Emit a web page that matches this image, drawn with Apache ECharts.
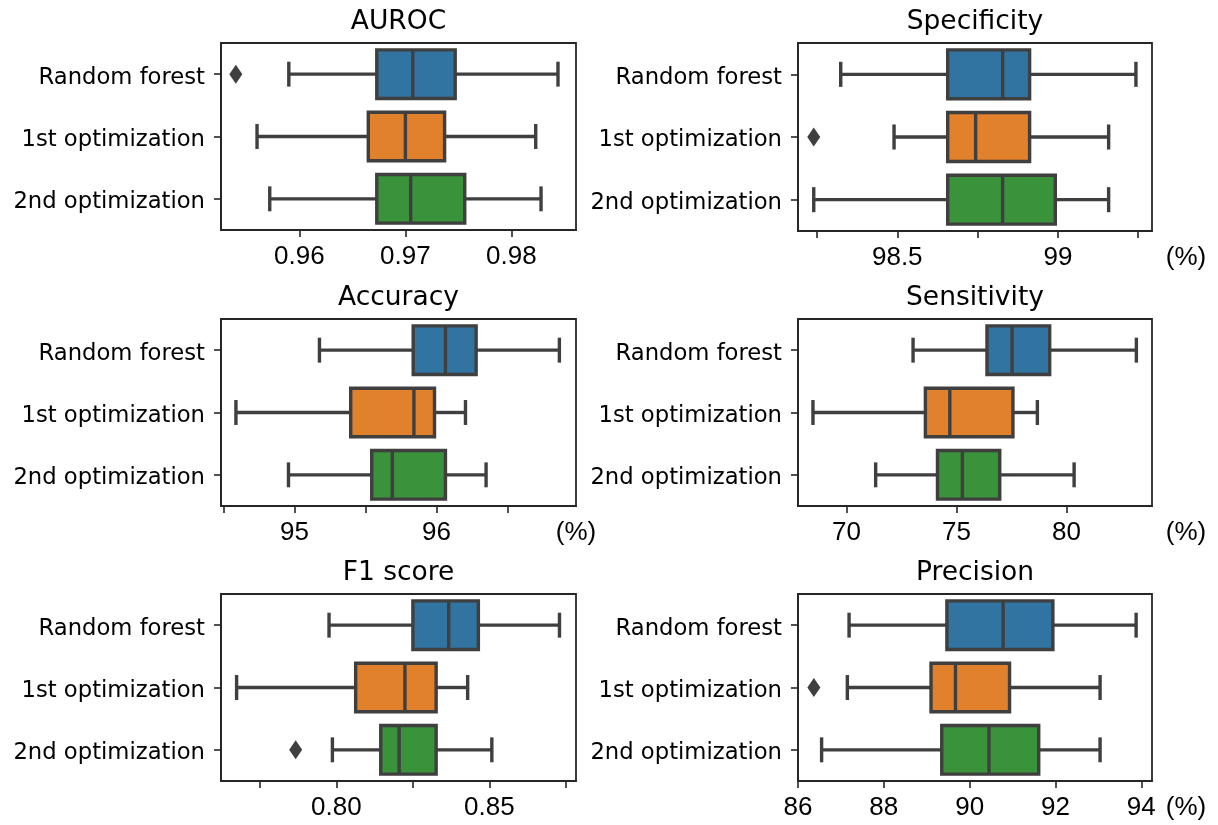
<!DOCTYPE html>
<html>
<head>
<meta charset="utf-8">
<script src="https://cdn.jsdelivr.net/npm/echarts@6/dist/echarts.min.js"></script>
<style>
html,body{margin:0;padding:0;background:#fff;}
#chart{width:1218px;height:825px;}
</style>
</head>
<body>
<div id="chart"></div>
<script>
// ---- data ----
const categories = ['Random forest', '1st optimization', '2nd optimization'];
const panelTitles = ['AUROC', 'Specificity', 'Accuracy', 'Sensitivity', 'F1 score', 'Precision'];

// [whisker low, Q1, median, Q3, whisker high] per category
const aurocBoxes = [
  [0.9590, 0.9673, 0.9707, 0.9747, 0.9844],
  [0.9560, 0.9665, 0.9700, 0.9737, 0.9823],
  [0.9572, 0.9673, 0.9705, 0.9756, 0.9828]
];
const aurocOutliers = [[0.9540, 0]];

const specificityBoxes = [
  [98.324, 98.657, 98.828, 98.912, 99.243],
  [98.490, 98.657, 98.744, 98.912, 99.158],
  [98.240, 98.657, 98.828, 98.992, 99.158]
];
const specificityOutliers = [[98.240, 1]];

const accuracyBoxes = [
  [95.176, 95.836, 96.063, 96.279, 96.865],
  [94.588, 95.396, 95.841, 95.986, 96.204],
  [94.958, 95.544, 95.689, 96.063, 96.349]
];
const accuracyOutliers = [];

const sensitivityBoxes = [
  [73.03, 76.39, 77.53, 79.24, 83.18],
  [68.48, 73.59, 74.70, 77.57, 78.68],
  [71.33, 74.14, 75.27, 76.97, 80.35]
];
const sensitivityOutliers = [];

const f1Boxes = [
  [0.7976, 0.8250, 0.8367, 0.8464, 0.8729],
  [0.7674, 0.8063, 0.8224, 0.8326, 0.8429],
  [0.7987, 0.8145, 0.8205, 0.8326, 0.8508]
];
const f1Outliers = [[0.7867, 2]];

const precisionBoxes = [
  [87.19, 89.47, 90.78, 91.94, 93.88],
  [87.15, 89.10, 89.67, 90.93, 93.04],
  [86.55, 89.35, 90.45, 91.61, 93.04]
];
const precisionOutliers = [[86.37, 1]];

// tick marks and tick labels
const aurocTicks = [0.96, 0.97, 0.98];
const aurocLabels = [0.96, 0.97, 0.98];
const specificityTicks = [98.25, 98.5, 98.75, 99, 99.25];
const specificityLabels = [98.5, 99];
const accuracyTicks = [94.5, 95, 95.5, 96, 96.5];
const accuracyLabels = [95, 96];
const sensitivityTicks = [70, 75, 80];
const sensitivityLabels = [70, 75, 80];
const f1Ticks = [0.775, 0.80, 0.825, 0.85, 0.875];
const f1Labels = [0.80, 0.85];
const precisionTicks = [86, 88, 90, 92, 94];
const precisionLabels = [86, 88, 90, 92, 94];

// axis ranges
const aurocRange = [0.9526, 0.9861];
const specificityRange = [98.191, 99.293];
const accuracyRange = [94.483, 96.982];
const sensitivityRange = [67.8, 83.89];
const f1Range = [0.7623, 0.8783];
const precisionRange = [86.0, 94.25];

// ---- styling / layout ----
const boxColors = ['#3274A1', '#E1812C', '#3A923A'];
const lineGray = '#3f3f3f';
const frameColor = '#262626';
const grids = [
  {left: 221, top: 43, width: 355, height: 187},
  {left: 798, top: 43, width: 354, height: 188},
  {left: 221, top: 319, width: 355, height: 187},
  {left: 798, top: 319, width: 354, height: 187},
  {left: 221, top: 594, width: 355, height: 187},
  {left: 798, top: 594, width: 354, height: 187}
];
// horizontal offset of the "(%)" unit label from the grid's right edge
const pctOffsets = [0, 34, 0, 34, 0, 34];
const panels = [
  {boxes: aurocBoxes, outliers: aurocOutliers, ticks: aurocTicks, labels: aurocLabels, range: aurocRange, pct: false, fmt: v => String(v)},
  {boxes: specificityBoxes, outliers: specificityOutliers, ticks: specificityTicks, labels: specificityLabels, range: specificityRange, pct: true, fmt: v => String(v)},
  {boxes: accuracyBoxes, outliers: accuracyOutliers, ticks: accuracyTicks, labels: accuracyLabels, range: accuracyRange, pct: true, fmt: v => String(v)},
  {boxes: sensitivityBoxes, outliers: sensitivityOutliers, ticks: sensitivityTicks, labels: sensitivityLabels, range: sensitivityRange, pct: true, fmt: v => String(v)},
  {boxes: f1Boxes, outliers: f1Outliers, ticks: f1Ticks, labels: f1Labels, range: f1Range, pct: false, fmt: v => v.toFixed(2)},
  {boxes: precisionBoxes, outliers: precisionOutliers, ticks: precisionTicks, labels: precisionLabels, range: precisionRange, pct: true, fmt: v => String(v)}
];

function renderBox(params, api) {
  const cat = api.value(0);
  const pLo = api.coord([api.value(1), cat]);
  const pQ1 = api.coord([api.value(2), cat]);
  const pMd = api.coord([api.value(3), cat]);
  const pQ3 = api.coord([api.value(4), cat]);
  const pHi = api.coord([api.value(5), cat]);
  const band = api.size([0, 1])[1];
  const y = pQ1[1];
  const bh = band * 0.78;
  const ch = band * 0.4;
  const lw = 3.4;
  const ls = {stroke: lineGray, lineWidth: lw, fill: null};
  return {
    type: 'group',
    children: [
      {type: 'line', shape: {x1: pLo[0], y1: y, x2: pQ1[0], y2: y}, style: ls},
      {type: 'line', shape: {x1: pQ3[0], y1: y, x2: pHi[0], y2: y}, style: ls},
      {type: 'line', shape: {x1: pLo[0], y1: y - ch / 2, x2: pLo[0], y2: y + ch / 2}, style: ls},
      {type: 'line', shape: {x1: pHi[0], y1: y - ch / 2, x2: pHi[0], y2: y + ch / 2}, style: ls},
      {type: 'rect', shape: {x: pQ1[0], y: y - bh / 2, width: pQ3[0] - pQ1[0], height: bh},
        style: {fill: boxColors[cat], stroke: lineGray, lineWidth: lw}},
      {type: 'line', shape: {x1: pMd[0], y1: y - bh / 2, x2: pMd[0], y2: y + bh / 2}, style: ls}
    ]
  };
}

const option = {
  backgroundColor: '#fff',
  animation: false,
  grid: [],
  xAxis: [],
  yAxis: [],
  series: [],
  graphic: []
};

panels.forEach((p, i) => {
  const g = grids[i];
  option.grid.push(Object.assign({show: true, borderColor: frameColor, borderWidth: 1.8, backgroundColor: 'transparent'}, g));
  option.xAxis.push({
    type: 'value', gridIndex: i, min: p.range[0], max: p.range[1],
    splitLine: {show: false},
    axisLine: {show: true, lineStyle: {color: frameColor, width: 1.8}},
    axisTick: {show: true, length: 7, lineStyle: {color: frameColor, width: 1.6}, customValues: p.ticks},
    axisLabel: {show: true, customValues: p.labels, formatter: p.fmt, margin: 14,
      color: '#000', fontFamily: 'Liberation Sans, Arial', fontSize: 26}
  });
  option.yAxis.push({
    type: 'category', gridIndex: i, data: categories, inverse: true,
    axisLine: {show: true, lineStyle: {color: frameColor, width: 1.8}},
    axisTick: {show: true, length: 7, alignWithLabel: true, lineStyle: {color: frameColor, width: 1.6}},
    axisLabel: {show: true, margin: 16, formatter: '{c|{value}}',
      rich: {c: {color: '#000', fontFamily: 'DejaVu Sans', fontSize: 22.7, padding: [7, 0, 0, 0]}}},
    splitLine: {show: false}
  });
  option.series.push({
    type: 'custom', xAxisIndex: i, yAxisIndex: i,
    renderItem: renderBox,
    encode: {y: 0, x: [1, 2, 3, 4, 5]},
    data: p.boxes.map((b, c) => [c].concat(b))
  });
  option.series.push({
    type: 'scatter', xAxisIndex: i, yAxisIndex: i,
    symbol: 'diamond', symbolSize: [13, 19],
    itemStyle: {color: lineGray, opacity: 1},
    data: p.outliers
  });
  option.graphic.push({
    type: 'text', x: g.left + g.width / 2, y: g.top - 21,
    style: {text: panelTitles[i], fill: '#000', font: '26.5px "DejaVu Sans"', textAlign: 'center', textVerticalAlign: 'middle'}
  });
  if (p.pct) {
    option.graphic.push({
      type: 'text', x: g.left + g.width + pctOffsets[i], y: g.top + g.height + 27,
      style: {text: '(%)', fill: '#000', font: '26px "Liberation Sans"', textAlign: 'center', textVerticalAlign: 'middle'}
    });
  }
});

const chart = echarts.init(document.getElementById('chart'), null, {renderer: 'canvas'});
chart.setOption(option);
</script>
</body>
</html>
